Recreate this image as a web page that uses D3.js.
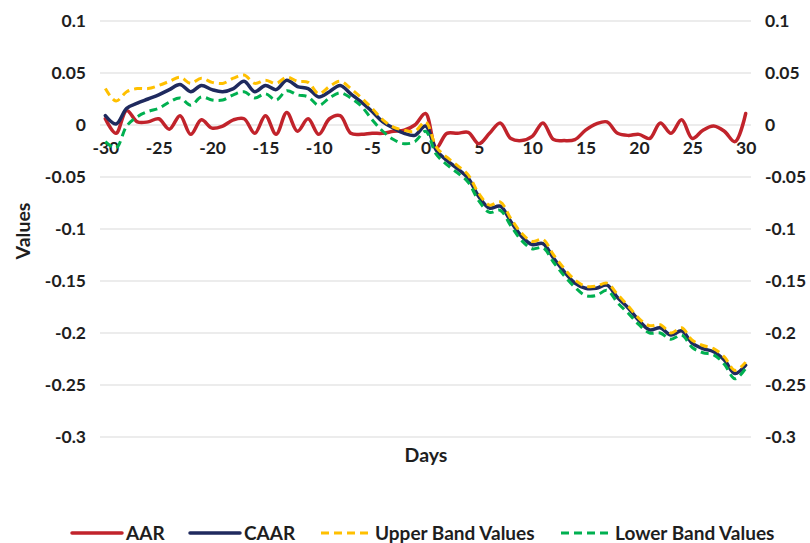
<!DOCTYPE html>
<html><head><meta charset="utf-8">
<script src="https://cdn.jsdelivr.net/npm/d3@7"></script>
<style>body{margin:0;background:#fff;}svg{display:block;font-family:Lato,"Open Sans",sans-serif;font-weight:700;}</style>
</head><body>
<script>
const days = d3.range(-30, 31);
const yTicks = [0.1, 0.05, 0, -0.05, -0.1, -0.15, -0.2, -0.25, -0.3];
const xTicks = [-30, -25, -20, -15, -10, -5, 0, 5, 10, 15, 20, 25, 30];
const seriesNames = ["AAR", "CAAR", "Upper Band Values", "Lower Band Values"];
const AAR = [0.006,-0.008,0.014,0.003,0.003,0.006,-0.004,0.009,-0.009,0.005,
 -0.003,-0.001,0.005,0.006,-0.008,0.009,-0.009,0.012,-0.006,0.006,
 -0.009,0.006,0.009,-0.008,-0.009,-0.008,-0.008,-0.006,-0.005,0.000,
 0.011,-0.022,-0.008,-0.008,-0.007,-0.018,-0.008,0.002,-0.013,-0.015,
 -0.011,0.002,-0.014,-0.015,-0.014,-0.005,0.001,0.003,-0.008,-0.010,
 -0.009,-0.013,0.002,-0.008,0.005,-0.013,-0.005,-0.001,-0.006,-0.016,0.011];
const CAAR = [0.009,0.001,0.016,0.021,0.025,0.029,0.034,0.039,0.032,0.038,
 0.034,0.032,0.035,0.042,0.032,0.038,0.034,0.043,0.037,0.035,
 0.027,0.032,0.038,0.030,0.022,0.013,0.003,-0.003,-0.008,-0.010,
 -0.001,-0.024,-0.034,-0.042,-0.051,-0.069,-0.080,-0.078,-0.093,-0.107,
 -0.115,-0.114,-0.128,-0.141,-0.152,-0.157,-0.157,-0.154,-0.166,-0.176,
 -0.188,-0.197,-0.195,-0.202,-0.198,-0.210,-0.215,-0.218,-0.226,-0.239,-0.231];
const Upper = [0.035,0.023,0.032,0.035,0.035,0.038,0.042,0.046,0.040,0.045,
 0.041,0.040,0.045,0.048,0.040,0.043,0.040,0.046,0.042,0.041,
 0.030,0.037,0.042,0.035,0.026,0.016,0.005,-0.002,-0.005,-0.006,
 0.003,-0.021,-0.031,-0.039,-0.048,-0.066,-0.077,-0.074,-0.090,-0.104,
 -0.112,-0.110,-0.125,-0.138,-0.149,-0.155,-0.155,-0.152,-0.163,-0.174,
 -0.186,-0.193,-0.192,-0.200,-0.195,-0.207,-0.212,-0.215,-0.223,-0.236,-0.228];
const Lower = [-0.016,-0.022,-0.001,0.008,0.013,0.016,0.022,0.026,0.019,0.027,
 0.024,0.024,0.029,0.032,0.026,0.030,0.024,0.033,0.029,0.027,
 0.019,0.026,0.031,0.026,0.018,0.005,-0.006,-0.014,-0.018,-0.016,
 -0.006,-0.028,-0.038,-0.046,-0.055,-0.073,-0.084,-0.082,-0.097,-0.111,
 -0.119,-0.118,-0.132,-0.145,-0.156,-0.164,-0.164,-0.159,-0.171,-0.181,
 -0.192,-0.200,-0.200,-0.206,-0.202,-0.214,-0.219,-0.221,-0.230,-0.244,-0.234];

const W = 810, H = 543;
const svg = d3.select("body").append("svg").attr("width", W).attr("height", H);
const pL = 100, pR = 751, pT = 21, pB = 437;
const x = d3.scalePoint().domain(days).range([pL, pR]).padding(0.5);
const y = d3.scaleLinear().domain([-0.3, 0.1]).range([pB, pT]);
const txt = "#1e1e1e";

// gridlines
svg.append("g").selectAll("line").data(yTicks).join("line")
  .attr("x1", pL).attr("x2", pR)
  .attr("y1", d => y(d)).attr("y2", d => y(d))
  .attr("stroke", "#d9d9d9").attr("stroke-width", 1);

const fmt = d => d === 0 ? "0" : String(d);
function styleTicks(g) {
  g.select(".domain").remove();
  g.selectAll("text").attr("font-size", 17.5).attr("font-family", "Lato").attr("font-weight", 700).attr("fill", txt);
}
// left axis
svg.append("g").attr("transform", `translate(${pL},0)`)
  .call(d3.axisLeft(y).tickValues(yTicks).tickFormat(fmt).tickSize(0).tickPadding(14)).call(styleTicks);
// right axis
svg.append("g").attr("transform", `translate(${pR},0)`)
  .call(d3.axisRight(y).tickValues(yTicks).tickFormat(fmt).tickSize(0).tickPadding(14)).call(styleTicks);
// x axis at 0
svg.append("g").attr("transform", `translate(0,${y(0)})`)
  .call(d3.axisBottom(x).tickValues(xTicks).tickSize(0).tickPadding(17)).call(styleTicks);

// titles
svg.append("text").attr("x", 426).attr("y", 462).attr("text-anchor", "middle")
  .attr("font-size", 19.5).attr("fill", txt).text("Days");
svg.append("text").attr("transform", "translate(30,231) rotate(-90)").attr("text-anchor", "middle")
  .attr("font-size", 19.5).attr("fill", txt).text("Values");

const series = [
  {name: seriesNames[0], vals: AAR, color: "#c1232b", dash: null, w: 3.5},
  {name: seriesNames[1], vals: CAAR, color: "#1f2a5e", dash: null, w: 3.5},
  {name: seriesNames[2], vals: Upper, color: "#ffc000", dash: "8,5", w: 3},
  {name: seriesNames[3], vals: Lower, color: "#00b050", dash: "8,5", w: 3}
];
const line = d3.line().x((d, i) => x(days[i])).y(d => y(d)).curve(d3.curveCatmullRom.alpha(0.5));
series.forEach(s => {
  svg.append("path").datum(s.vals).attr("d", line)
    .attr("fill", "none").attr("stroke", s.color).attr("stroke-width", s.w)
    .attr("stroke-linejoin", "round").attr("stroke-linecap", s.dash ? "butt" : "round")
    .attr("stroke-dasharray", s.dash);
});

// legend
const legX = [72, 190, 321, 561];
const ly = 533;
series.forEach((s, i) => {
  const g = svg.append("g");
  g.append("line").attr("x1", legX[i]).attr("x2", legX[i] + 50).attr("y1", ly).attr("y2", ly)
    .attr("stroke", s.color).attr("stroke-width", s.w).attr("stroke-dasharray", s.dash)
    .attr("stroke-linecap", s.dash ? "butt" : "round");
  g.append("text").attr("x", legX[i] + 54).attr("y", ly).attr("dy", "0.35em")
    .attr("font-size", 19).attr("fill", txt).text(s.name);
});
</script>
</body></html>
